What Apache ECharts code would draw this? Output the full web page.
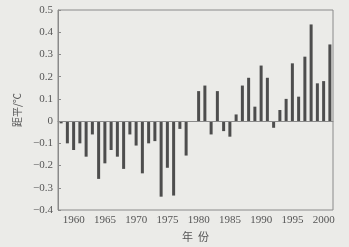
<!DOCTYPE html>
<html>
<head>
<meta charset="utf-8">
<script src="https://cdn.jsdelivr.net/npm/echarts@6/dist/echarts.min.js"></script>
<style>
  html, body { margin: 0; padding: 0; background: #ebebe8; }
  #main { width: 349px; height: 247px; }
</style>
</head>
<body>
<div id="main"></div>
<script>
var years = [];
for (var y = 1958; y <= 2001; y++) years.push(String(y));
// temperature anomaly, 1958-2001
var anomaly = [
  -0.01, -0.10, -0.13, -0.10, -0.16, -0.06, -0.26, -0.19, -0.13, -0.16,
  -0.215, -0.06, -0.11, -0.235, -0.10, -0.09, -0.34, -0.21, -0.335, -0.035,
  -0.155, 0.0, 0.135, 0.16, -0.06, 0.135, -0.045, -0.07, 0.03, 0.16,
  0.195, 0.065, 0.25, 0.195, -0.03, 0.05, 0.10, 0.26, 0.11, 0.29,
  0.435, 0.17, 0.18, 0.345
];
var yTicks = [-0.4, 0.5, 0.1];

var dom = document.getElementById("main");
var chart = echarts.init(dom);
var serif = "'Liberation Serif', 'Noto Sans CJK SC', serif";
var option = {
    backgroundColor: '#ebebe8',
    animation: false,
    grid: {
        left: 58, right: 16, top: 10, bottom: 37,
        show: true, borderColor: '#8a8a8a', borderWidth: 1,
        backgroundColor: 'transparent'
    },
    xAxis: {
        type: 'category',
        data: years,
        name: '年  份',
        nameLocation: 'middle',
        nameGap: 20,
        nameTextStyle: { color: '#555', fontSize: 11, fontFamily: "'Noto Sans CJK SC'" },
        axisLine: { lineStyle: { color: '#8a8a8a' } },
        axisTick: {
            inside: true, alignWithLabel: true, length: 3,
            interval: function (i, v) { return +v % 5 === 0; },
            lineStyle: { color: '#8a8a8a' }
        },
        axisLabel: {
            interval: function (i, v) { return +v % 5 === 0; },
            color: '#555', fontSize: 11, fontFamily: serif, margin: 5
        }
    },
    yAxis: {
        type: 'value',
        min: yTicks[0], max: yTicks[1], interval: yTicks[2],
        name: '距平/℃',
        nameLocation: 'middle',
        nameGap: 31,
        nameRotate: 90,
        nameTextStyle: { color: '#555', fontSize: 10, fontFamily: "'Noto Sans CJK SC'" },
        axisLine: { show: true, lineStyle: { color: '#8a8a8a' } },
        axisTick: { show: true, inside: true, length: 3, lineStyle: { color: '#8a8a8a' } },
        splitLine: { show: false },
        axisLabel: {
            color: '#555', fontSize: 11, fontFamily: serif, margin: 5,
            formatter: function (v) {
                var s = Math.abs(v) < 1e-9 ? '0' : Math.abs(v).toFixed(1);
                return v < -1e-9 ? '\u2212' + s : s;
            }
        }
    },
    series: [{
        type: 'bar',
        data: anomaly,
        barWidth: 3,
        itemStyle: { color: '#4d4d4d' },
        markLine: {
            silent: true,
            symbol: 'none',
            label: { show: false },
            lineStyle: { color: '#8a8a8a', type: 'solid', width: 1 },
            data: [{ yAxis: 0 }]
        }
    }]
};
chart.setOption(option);
</script>
</body>
</html>
